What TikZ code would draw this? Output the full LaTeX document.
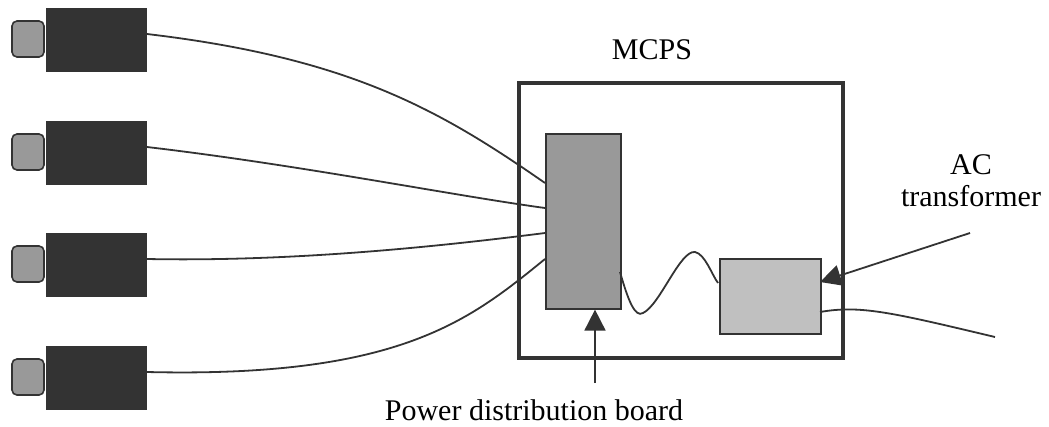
\documentclass[tikz,border=0pt]{standalone}
\usepackage{fontspec}
\setmainfont{Liberation Serif}
\usetikzlibrary{arrows.meta}
\definecolor{dk}{HTML}{333333}
\definecolor{mid}{HTML}{999999}
\definecolor{lt}{HTML}{C0C0C0}
\begin{document}
\begin{tikzpicture}[x=1pt,y=-1pt,
  body/.style={fill=dk,draw=none},
  lens/.style={fill=mid,draw=dk,line width=1.6pt,rounded corners=5pt},
  cable/.style={draw=dk,line width=1.8pt},
  lbl/.style={font=\fontsize{30}{34}\selectfont,inner sep=0pt},
  tip/.style={-{Triangle[length=21pt,width=21pt]}}
]
\useasboundingbox (0,0) rectangle (1049,426);
% cameras
\foreach \i/\y in {1/8,2/121,3/233,4/346}{
  \path[body] (46,\y) rectangle (147,\y+64);
  \path[lens] (12,\y+13) rectangle (44,\y+49);
  \coordinate (c\i) at (147,\y+26);
}
% MCPS box
\draw[dk,line width=3.5pt] (519,83) rectangle (843,358);
\node[lbl] (mcps) at (652,50) {MCPS};
% board
\node[draw=dk,fill=mid,line width=1.6pt,minimum width=75pt,minimum height=175pt,inner sep=0pt,anchor=north west] (board) at (545,133) {};
% transformer
\node[draw=dk,fill=lt,line width=1.6pt,minimum width=101pt,minimum height=75pt,inner sep=0pt,anchor=north west] (tr) at (719,258) {};
% board attachment points
\coordinate (b1) at (545,183);
\coordinate (b2) at (545,208);
\coordinate (b3) at (545,233);
\coordinate (b4) at (545,259);
\draw[cable] (c1) .. controls (350,58) and (440,110) .. (b1);
\draw[cable] (c2) .. controls (300,165) and (450,195) .. (b2);
\draw[cable] (c3) .. controls (300,262) and (450,245) .. (b3);
\draw[cable] (c4) .. controls (400,378) and (470,320) .. (b4);
% wave
\coordinate (w0) at (620,272);
\coordinate (w1) at (718,283);
\draw[cable] (w0) .. controls (628,300) and (635,318) .. (643,313)
  .. controls (660,305) and (680,250) .. (695,252)
  .. controls (705,254) and (712,275) .. (w1);
% output
\coordinate (o1) at (820,312);
\coordinate (o2) at (995,337);
\draw[cable] (o1) .. controls (860,305) and (890,312) .. (o2);
% labels and arrows
\node[lbl] (ac) at (971,165) {AC};
\node[lbl] (trl) at (971,196) {transformer};
\coordinate (a0) at (970,233);
\coordinate (a1) at (820,282);
\draw[cable,tip,dk] (a0) -- (a1);
\node[lbl] (pdb) at (534,410) {Power distribution board};
\coordinate (p0) at (595,383);
\draw[cable,tip,dk] (p0) -- (board.south -| p0);
\end{tikzpicture}
\end{document}
